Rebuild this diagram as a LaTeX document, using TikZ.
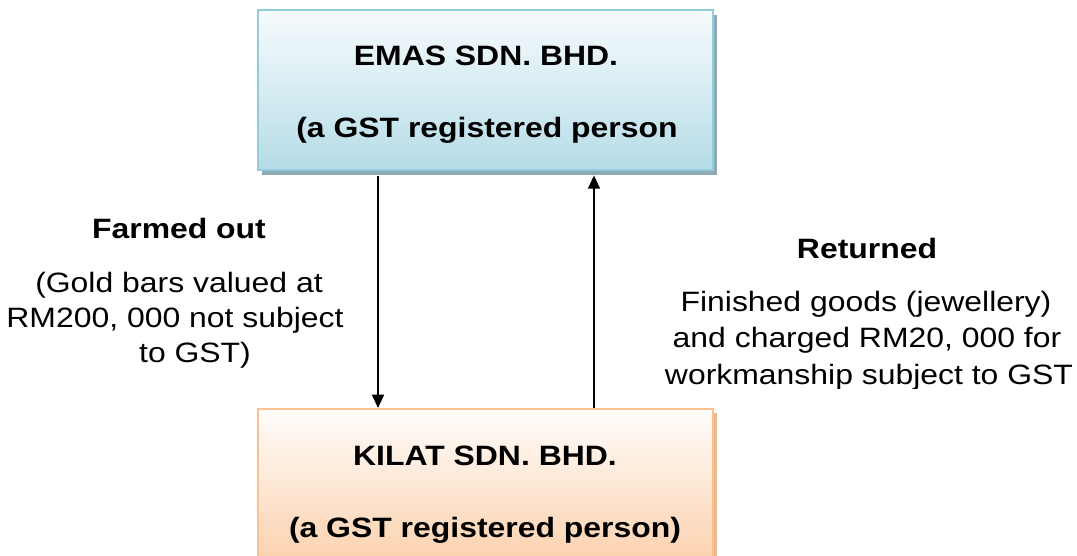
\documentclass[tikz,border=0pt]{standalone}
\usepackage{fontspec}
\setmainfont[FakeStretch=1.14]{Liberation Sans}
\usetikzlibrary{shadows,arrows.meta}
\definecolor{aquaB}{HTML}{92CDDC}
\definecolor{aquaT}{HTML}{F7FBFD}
\definecolor{aquaF}{HTML}{B5DCE7}
\definecolor{aquaS}{HTML}{8EAAB2}
\definecolor{peachB}{HTML}{FAC090}
\definecolor{peachT}{HTML}{FFFDFB}
\definecolor{peachF}{HTML}{FBCFAA}
\definecolor{peachS}{HTML}{EDB98F}
\begin{document}
\begin{tikzpicture}[x=0.75pt,y=-0.75pt,
  box/.style={rectangle, minimum width=341.6pt, minimum height=120pt, line width=1.5pt, inner sep=0pt},
  bluebox/.style={box, draw=aquaB, top color=aquaT, bottom color=aquaF,
    drop shadow={shadow xshift=3pt, shadow yshift=-3.5pt, fill=aquaS, opacity=1}},
  peachbox/.style={box, draw=peachB, top color=peachT, bottom color=peachF,
    drop shadow={shadow xshift=2.5pt, shadow yshift=-3pt, fill=peachS, opacity=1}},
  txt/.style={inner sep=0pt, anchor=base, font=\fontsize{21}{26.6}\selectfont},
  btxt/.style={txt, font=\fontsize{21}{26.6}\selectfont\bfseries},
  arr/.style={line width=1.3pt, -{Triangle[length=10pt,width=9pt]}}]
\clip (0,0) rectangle (1077,556);
\fill[white] (0,0) rectangle (1077,556);
% boxes
\node[bluebox] (emas) at (485.75,90.4) {};
\node[peachbox] (kilat) at (485.75,489) {};
\node[btxt] (emas1) at (486,66) {EMAS SDN. BHD.};
\node[btxt] (emas2) at (487,138) {(a GST registered person};
\node[btxt] (kilat1) at (485,465) {KILAT SDN. BHD.};
\node[btxt] (kilat2) at (485,537) {(a GST registered person)};
% arrows
\coordinate (lx) at (378,0);
\coordinate (rx) at (594,0);
\draw[arr, shorten <=3.5pt] (emas.south -| lx) -- (kilat.north -| lx);
\draw[arr, shorten >=3pt] (kilat.north -| rx) -- (emas.south -| rx);
% left label
\node[btxt] (fo) at (179,238) {Farmed out};
\node[txt] (fo1) at (179,292) {(Gold bars valued at};
\node[txt] (fo2) at (175,327) {RM200, 000 not subject};
\node[txt] (fo3) at (195,362) {to GST)};
% right label
\node[btxt] (rt) at (867,258) {Returned};
\node[txt] (rt1) at (866,311) {Finished goods (jewellery)};
\node[txt] (rt2) at (867,347) {and charged RM20, 000 for};
\begin{scope}
\clip (600,350) rectangle (1077,388);
\node[txt] (rt3) at (869,384) {workmanship subject to GST};
\end{scope}
\end{tikzpicture}
\end{document}
